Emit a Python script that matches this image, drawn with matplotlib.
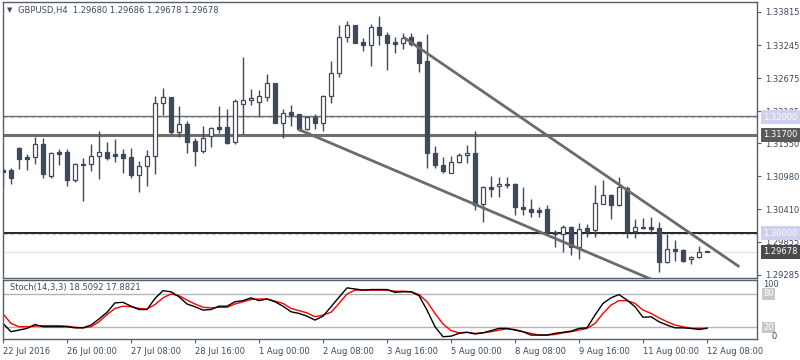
import numpy as np
import matplotlib.pyplot as plt
from matplotlib.transforms import blended_transform_factory

# GBPUSD H4 candles
opens = [1.31091, 1.31091, 1.31470, 1.31315, 1.31310, 1.31539, 1.30988, 1.31406, 1.31401, 1.30910,
         1.31194, 1.31188, 1.31327, 1.31396, 1.31367, 1.31367, 1.31315, 1.31013, 1.31155, 1.31327,
         1.32241, 1.32344, 1.31751, 1.31884, 1.31591, 1.31424, 1.31677, 1.31827, 1.31827, 1.31565,
         1.32224, 1.32293, 1.32268, 1.32355, 1.32586, 1.31906, 1.32086, 1.32051, 1.31793, 1.32005,
         1.31906, 1.32358, 1.32758, 1.33379, 1.33586, 1.33298, 1.33241, 1.33551, 1.33418, 1.33298,
         1.33275, 1.33379, 1.33293, 1.32970, 1.31379, 1.31177, 1.31034, 1.31233, 1.31344, 1.31379,
         1.30500, 1.30793, 1.30810, 1.30850, 1.30850, 1.30448, 1.30413, 1.30401, 1.30413, 1.30017,
         1.29982, 1.30114, 1.29769, 1.30083, 1.30057, 1.30505, 1.30655, 1.30479, 1.30789, 1.30045,
         1.30103, 1.30103, 1.30086, 1.29510, 1.29724, 1.29712, 1.29551, 1.29586, 1.29680]
highs = [1.31143, 1.31126, 1.31479, 1.31367, 1.31665, 1.31643, 1.31406, 1.31453, 1.31453, 1.31216,
         1.31298, 1.31539, 1.31763, 1.31574, 1.31625, 1.31453, 1.31470, 1.31245, 1.31436, 1.32367,
         1.32505, 1.32350, 1.32194, 1.31941, 1.31643, 1.31844, 1.31824, 1.32189, 1.32143, 1.32310,
         1.33039, 1.32482, 1.32470, 1.32746, 1.32591, 1.32143, 1.32212, 1.32057, 1.32013, 1.32057,
         1.32384, 1.32970, 1.33591, 1.33660, 1.33591, 1.33362, 1.33608, 1.33746, 1.33465, 1.33379,
         1.33458, 1.33458, 1.33315, 1.33436, 1.31505, 1.31320, 1.31337, 1.31389, 1.31517, 1.31763,
         1.30815, 1.30988, 1.30975, 1.30965, 1.30862, 1.30803, 1.30586, 1.30458, 1.30488, 1.30057,
         1.30143, 1.30126, 1.30172, 1.30160, 1.30832, 1.30919, 1.30677, 1.30962, 1.30815, 1.30241,
         1.30255, 1.30275, 1.30200, 1.29988, 1.29884, 1.29724, 1.29608, 1.29781, 1.29686]
lows = [1.30798, 1.30850, 1.31113, 1.31091, 1.31188, 1.30958, 1.30958, 1.31182, 1.30820, 1.30884,
        1.30562, 1.31082, 1.30941, 1.31263, 1.31228, 1.31044, 1.30958, 1.30717, 1.30820, 1.31027,
        1.32044, 1.31720, 1.31665, 1.31379, 1.31165, 1.31379, 1.31493, 1.31729, 1.31534, 1.31534,
        1.31712, 1.32212, 1.32010, 1.32286, 1.31901, 1.31637, 1.31841, 1.31755, 1.31781, 1.31793,
        1.31755, 1.32241, 1.32700, 1.33303, 1.33272, 1.33148, 1.32889, 1.33251, 1.32820, 1.33113,
        1.33177, 1.33234, 1.32786, 1.31120, 1.31131, 1.31044, 1.31031, 1.31216, 1.31216, 1.30401,
        1.30200, 1.30631, 1.30631, 1.30781, 1.30315, 1.30315, 1.30286, 1.30286, 1.30000, 1.29769,
        1.29682, 1.29625, 1.29551, 1.29931, 1.29941, 1.30500, 1.30241, 1.30470, 1.29914, 1.29914,
        1.30079, 1.30010, 1.29338, 1.29493, 1.29527, 1.29510, 1.29470, 1.29582, 1.29678]
closes = [1.31056, 1.30953, 1.31286, 1.31289, 1.31534, 1.31017, 1.31384, 1.31372, 1.30924, 1.31194,
          1.31182, 1.31327, 1.31396, 1.31298, 1.31337, 1.31303, 1.31010, 1.31160, 1.31327, 1.32241,
          1.32344, 1.31751, 1.31879, 1.31579, 1.31424, 1.31637, 1.31815, 1.31803, 1.31562, 1.32275,
          1.32293, 1.32327, 1.32362, 1.32586, 1.31906, 1.32079, 1.32044, 1.31790, 1.32000, 1.31906,
          1.32362, 1.32758, 1.33379, 1.33586, 1.33286, 1.33241, 1.33551, 1.33413, 1.33286, 1.33268,
          1.33372, 1.33263, 1.32941, 1.31379, 1.31177, 1.31069, 1.31233, 1.31344, 1.31379, 1.30488,
          1.30793, 1.30758, 1.30850, 1.30838, 1.30448, 1.30413, 1.30372, 1.30372, 1.30017, 1.29982,
          1.30114, 1.29769, 1.30079, 1.30031, 1.30517, 1.30655, 1.30488, 1.30793, 1.30045, 1.30103,
          1.30091, 1.30074, 1.29510, 1.29724, 1.29695, 1.29527, 1.29586, 1.29682, 1.29678]

# Stochastic (14,3,3)
stoch_k = [27, 12, 15, 18, 25, 21, 21, 21, 21, 19, 19, 24, 35, 47, 64, 65, 58, 52, 52, 72,
           86, 84, 75, 62, 57, 51, 52, 58, 58, 66, 68, 73, 68, 71, 66, 58, 48, 45, 40, 33,
           40, 57, 74, 91, 89, 87, 88, 88, 88, 83, 84, 84, 77, 51, 21, 3, 4, 9, 11, 8,
           10, 14, 18, 18, 15, 12, 6, 6, 6, 9, 11, 13, 18, 19, 42, 63, 73, 79, 69, 57,
           38, 39, 30, 24, 19, 19, 18, 16, 18.5]
stoch_d = [44, 27, 21, 21, 22, 23, 23, 23, 22, 20, 19, 21, 30, 43, 54, 58, 57, 54, 53, 61,
           73, 80, 77, 69, 62, 56, 55, 56, 56, 62, 66, 70, 71, 71, 67, 63, 54, 50, 46, 39,
           42, 47, 63, 80, 87, 87, 87, 87, 87, 85, 85, 84, 79, 66, 45, 26, 14, 10, 11, 9,
           10, 12, 15, 17, 16, 12, 9, 6, 6, 7, 10, 12, 15, 18, 27, 45, 60, 68, 68, 63,
           51, 45, 37, 30, 24, 21, 18, 18, 17.9]

price_ticks = [1.33815, 1.33245, 1.32675, 1.32105, 1.31550, 1.30980, 1.30410, 1.29855, 1.29285]
time_pos = [0, 8, 16, 24, 32, 40, 48, 56, 64, 72, 80, 88]
time_labels = ['22 Jul 2016', '26 Jul 00:00', '27 Jul 08:00', '28 Jul 16:00', '1 Aug 00:00',
               '2 Aug 08:00', '3 Aug 16:00', '5 Aug 00:00', '8 Aug 08:00', '9 Aug 16:00',
               '11 Aug 00:00', '12 Aug 08:00']

# trend lines: (bar, price) end points
upper_line = [(50.25, 1.33362), (91.9, 1.29436)]
lower_line = [(37.1, 1.31781), (82.0, 1.29150)]

dark = '#3e4a5a'
frame = '#55606c'
txt = '#3a4a5c'
lavender = '#cfcfee'
fs = 6

plt.rcParams['font.family'] = ['DejaVu Sans']
fig = plt.figure(figsize=(8, 3.6), dpi=100)
ax = fig.add_axes([2.5 / 800, 1 - 278 / 360, 754.5 / 800, 276 / 360])
ax2 = fig.add_axes([2.5 / 800, 1 - 339 / 360, 754.5 / 800, 59 / 360])

o = np.array(opens)
h = np.array(highs)
l = np.array(lows)
c = np.array(closes)
x = np.arange(len(o))
bull = c > o

# horizontal lines
ax.axhline(1.29678, color='#e4e4e4', lw=1, zorder=1)
ax.axhline(1.32000, color=lavender, lw=1, ls=(0, (3, 2)), zorder=1)
ax.axhline(1.32017, color='#6e6e6e', lw=1, zorder=1)
ax.axhline(1.31700, color='#6e6e6e', lw=2.2, zorder=1)
ax.axhline(1.29994, color=lavender, lw=1, ls=(0, (3, 2)), zorder=1)
ax.axhline(1.30010, color='black', lw=1.2, zorder=1)

ax.vlines(x, l, h, color=dark, lw=1, zorder=2)
bottom = np.minimum(o, c)
height = np.maximum(np.abs(c - o), 0.00012)
ax.bar(x, height, bottom=bottom, width=0.55, color=np.where(bull, 'white', dark),
       edgecolor=dark, linewidth=0.9, zorder=3)

for line in (upper_line, lower_line):
    ax.plot([line[0][0], line[1][0]], [line[0][1], line[1][1]], color='#6b6b6b', lw=2, zorder=4)

ax.set_xlim(-0.0625, 94.25)
ax.set_ylim(1.29229, 1.33987)
ax.set_xticks([])
ax.yaxis.tick_right()
ax.set_yticks(price_ticks)
ax.set_yticklabels(['%.5f' % p for p in price_ticks])
ax.tick_params(axis='y', length=3, width=0.8, color=frame, labelsize=fs, labelcolor=txt, pad=3)
for s in ax.spines.values():
    s.set_color(frame)
    s.set_linewidth(1)

tr = blended_transform_factory(ax.transAxes, ax.transData)
for p, fc in [(1.32000, lavender), (1.31700, '#5a5a5a'), (1.30000, lavender), (1.29678, '#4a4a4a')]:
    ax.text(1.0 + 6 / 754.5, p, '%.5f' % p, transform=tr, ha='left', va='center', fontsize=fs,
            color='white', zorder=10,
            bbox=dict(boxstyle='square,pad=0.3', fc=fc, ec='none'))

fig.text(7 / 800, 1 - 10 / 360, '\u25bc', fontsize=5, color=txt, va='center', ha='left')
fig.text(18 / 800, 1 - 10 / 360, 'GBPUSD,H4  1.29680 1.29686 1.29678 1.29678', fontsize=fs,
         color=txt, va='center', ha='left')

# stochastic panel
ax2.axhline(80, color='#b4b4b4', lw=1)
ax2.axhline(20, color='#b4b4b4', lw=1)
ax2.plot(x, stoch_d, color='red', lw=1)
ax2.plot(x, stoch_k, color='black', lw=1)
ax2.set_xlim(-0.0625, 94.25)
ax2.set_ylim(-1.1, 105.2)
ax2.set_yticks([])
ax2.set_xticks(time_pos)
ax2.set_xticklabels(time_labels)
ax2.tick_params(axis='x', length=3, width=0.8, color=frame, labelsize=fs, labelcolor=txt, pad=3)
for lab in ax2.get_xticklabels():
    lab.set_ha('left')
for s in ax2.spines.values():
    s.set_color(frame)
    s.set_linewidth(1)

tr2 = blended_transform_factory(ax2.transAxes, ax2.transData)
ax2.text(7 / 754.5, 92, 'Stoch(14,3,3) 18.5092 17.8821', transform=tr2,
         fontsize=fs, color=txt, va='center', ha='left')
ax2.text(1.0 + 6 / 754.5, 97.5, '100', transform=tr2, fontsize=fs, color=txt, va='center', ha='left')
ax2.text(1.0 + 6 / 754.5, 80, '80', transform=tr2, fontsize=fs, color='white', va='center', ha='left',
         bbox=dict(boxstyle='square,pad=0.15', fc='#c8c8c8', ec='none'))
ax2.text(1.0 + 6 / 754.5, 20, '20', transform=tr2, fontsize=fs, color='white', va='center', ha='left',
         bbox=dict(boxstyle='square,pad=0.15', fc='#c8c8c8', ec='none'))
ax2.text(1.0 + 14 / 754.5, 3, '0', transform=tr2, fontsize=fs, color=txt, va='center', ha='left')

fig.savefig('out.png', dpi=100, facecolor='white')
